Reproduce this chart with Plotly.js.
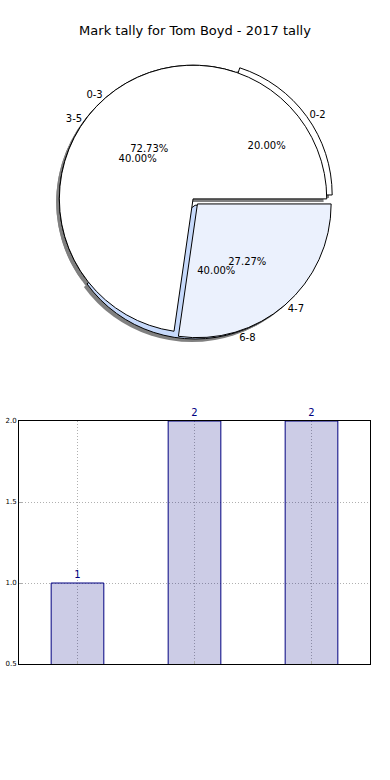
<!DOCTYPE html>
<html>
<head>
<meta charset="utf-8">
<script src="https://cdn.plot.ly/plotly-3.0.1.min.js"></script>
<style>html,body{margin:0;padding:0;background:#fff;}#chart{width:390px;height:780px;}</style>
</head>
<body>
<div id="chart"></div>
<script>
// Outer pie (two groups)
const labelsA = ['0-3', '4-7'];
const valuesA = [8, 3];
const colorsA = ['#ffffff', '#ebf1fd'];
const pullA = [0, 0.05];

// Inner pie (three groups) — also used for the bar chart
const labelsB = ['0-2', '3-5', '6-8'];
const valuesB = [1, 2, 2];
const colorsB = ['#ffffff', '#ffffff', '#c6d9fb'];
const pullB = [0.05, 0, 0.05];

const barX = [0, 1, 2];
const barValues = [1, 2, 2];
const barText = ['1', '2', '2'];

const FONT = 'DejaVu Sans, sans-serif';
const pieDomain = {x: [0.123, 0.867], y: [0.565, 0.925]};
const shadowDomain = {x: [0.123 - 0.008, 0.867 - 0.008], y: [0.565 - 0.004, 0.925 - 0.004]};
const clear = v => v.map(() => 'rgba(0,0,0,0)');
const sum = v => v.reduce((a, b) => a + b, 0);
// first slice begins at 3 o'clock and runs counter-clockwise (like startangle=0)
const rotFor = v => 90 - 360 * v[0] / sum(v);

function pie(labels, values, pull, domain, colors, line, extra) {
  return Object.assign({
    type: 'pie', labels: labels, values: values, pull: pull, domain: domain,
    sort: false, direction: 'counterclockwise', rotation: rotFor(values),
    marker: {colors: colors, line: line},
    textinfo: 'none', hoverinfo: 'skip', showlegend: false
  }, extra || {});
}

const shadowLine = {width: 0};
const edge = {color: '#000', width: 1};
const noLine = {width: 0};
const txtFont = {family: FONT, size: 10, color: '#000'};

const data = [
  pie(labelsB, valuesB, pullB, shadowDomain, valuesB.map(() => '#808080'), shadowLine),
  pie(labelsA, valuesA, pullA, shadowDomain, valuesA.map(() => '#808080'), shadowLine),
  pie(labelsB, valuesB, pullB, pieDomain, colorsB, edge),
  pie(labelsA, valuesA, pullA, pieDomain, colorsA, edge),
  pie(labelsB, valuesB, pullB, pieDomain, clear(valuesB), noLine,
      {texttemplate: '%{percent:.2%}', textposition: 'inside', insidetextorientation: 'horizontal', insidetextfont: txtFont}),
  pie(labelsB, valuesB, pullB, pieDomain, clear(valuesB), noLine,
      {texttemplate: '%{label}', textposition: 'outside', outsidetextfont: txtFont}),
  pie(labelsA, valuesA, pullA, pieDomain, clear(valuesA), noLine,
      {texttemplate: '%{percent:.2%}', textposition: 'inside', insidetextorientation: 'horizontal', insidetextfont: txtFont}),
  pie(labelsA, valuesA, pullA, pieDomain, clear(valuesA), noLine,
      {texttemplate: '%{label}', textposition: 'outside', outsidetextfont: txtFont}),
  {
    type: 'bar', x: barX, y: barValues, width: 0.45,
    text: barText, textposition: 'outside', cliponaxis: false,
    textfont: {family: FONT, size: 10, color: '#000080'},
    marker: {color: 'rgba(0,0,128,0.2)', line: {color: '#000080', width: 1}},
    hoverinfo: 'skip', showlegend: false, xaxis: 'x', yaxis: 'y'
  }
];

const layout = {
  width: 390, height: 780,
  margin: {l: 0, r: 0, t: 0, b: 0},
  paper_bgcolor: '#fff', plot_bgcolor: '#fff',
  font: {family: FONT, color: '#000'},
  title: {text: 'Mark tally for Tom Boyd - 2017 tally', font: {family: FONT, size: 13, color: '#000'},
          x: 0.5, xanchor: 'center', y: 1 - 30 / 780, yanchor: 'middle', yref: 'paper'},
  xaxis: {
    domain: [19 / 390, 370 / 390], range: [-0.5, 2.5],
    tickvals: barX, showticklabels: false,
    showgrid: true, gridcolor: '#b0b0b0', griddash: '1px,2px', gridwidth: 1,
    showline: true, linecolor: '#000', linewidth: 1, mirror: true,
    ticks: 'inside', ticklen: 3, tickcolor: '#aaa', zeroline: false, fixedrange: true
  },
  yaxis: {
    domain: [1 - 664 / 780, 1 - 421 / 780], range: [0.5, 2.0],
    tickvals: [0.5, 1.0, 1.5, 2.0], ticktext: ['0.5', '1.0', '1.5', '2.0'],
    tickfont: {family: FONT, size: 7, color: '#000'},
    showgrid: true, gridcolor: '#b0b0b0', griddash: '1px,2px', gridwidth: 1,
    showline: true, linecolor: '#000', linewidth: 1, mirror: true,
    ticks: 'inside', ticklen: 3, tickcolor: '#aaa', zeroline: false, fixedrange: true
  }
};

Plotly.newPlot('chart', data, layout, {displayModeBar: false, staticPlot: true});
</script>
</body>
</html>
